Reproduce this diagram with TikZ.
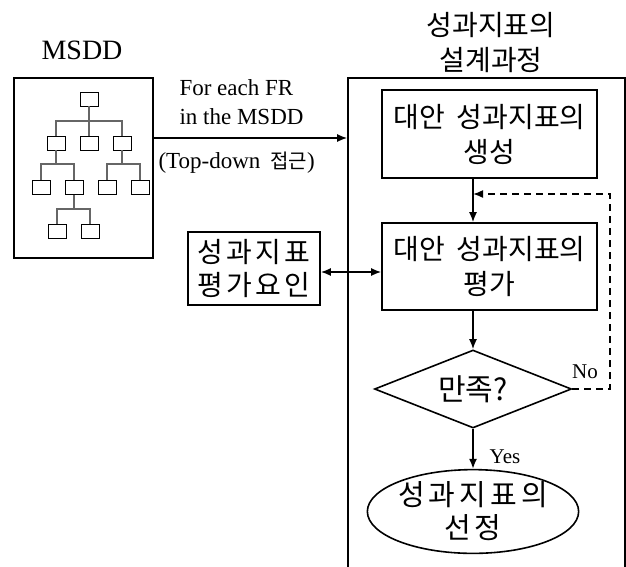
\documentclass[tikz,border=0pt]{standalone}
\usepackage{fontspec}
\setmainfont{Liberation Serif}
\newfontfamily\kr{Noto Sans CJK KR}
\usetikzlibrary{arrows.meta,shapes.geometric}
\newcommand{\ls}{\hspace{3pt}}
\newcommand{\lsw}{\hspace{4pt}}
\begin{document}
\begin{tikzpicture}[x=1pt,y=-1pt,
  box/.style={draw,line width=1.6pt,inner sep=0pt,align=center},
  tbox/.style={draw,line width=0.9pt,minimum width=18pt,minimum height=14pt,inner sep=0pt},
  tline/.style={draw=black!60,line width=1.1pt},
  arr/.style={line width=1.6pt,-{Latex[length=10pt,width=8pt]}},
  kor/.style={font=\kr\fontsize{28}{35}\selectfont},
  lat/.style={font=\fontsize{23}{29}\selectfont},
]
\useasboundingbox (0,0) rectangle (626,566);
% MSDD
\node[font=\fontsize{28}{30}\selectfont] (msddlbl) at (82,50) {MSDD};
\node[box,line width=2.2pt,minimum width=139pt,minimum height=180pt] (msdd) at (83.5,168) {};
% tree
\node[tbox] (r) at (89,99) {};
\node[tbox] (a) at (56,143) {};
\node[tbox] (b) at (89,143) {};
\node[tbox] (c) at (122,143) {};
\node[tbox] (a1) at (41,187.5) {};
\node[tbox] (a2) at (74,187.5) {};
\node[tbox] (c1) at (107,187.5) {};
\node[tbox] (c2) at (140,187.5) {};
\node[tbox] (d1) at (57,231) {};
\node[tbox] (d2) at (90,231) {};
\coordinate (b1) at (0,121);
\coordinate (b2) at (0,164);
\coordinate (b3) at (0,209);
\draw[tline] (r.south) -- (b.north);
\draw[tline] (a.north) |- (c.north |- b1) -- (c.north);
\draw[tline] (a.south) -- (a.south |- b2);
\draw[tline] (a1.north) |- (a2.north |- b2) -- (a2.north);
\draw[tline] (c.south) -- (c.south |- b2);
\draw[tline] (c1.north) |- (c2.north |- b2) -- (c2.north);
\draw[tline] (a2.south) -- (a2.south |- b3);
\draw[tline] (d1.north) |- (d2.north |- b3) -- (d2.north);
% big process box
\node[box,minimum width=277pt,minimum height=522pt] (big) at (486.5,339) {};
\node[kor,align=center] (title) at (491,42.5) {성과지표의\\설계과정};
\node[box,kor,minimum width=215pt,minimum height=88pt] (gen) at (489.5,134) {대안\hspace{12pt}성과지표의\\생성};
\node[box,kor,minimum width=215pt,minimum height=87pt] (eval) at (489.5,266.5) {대안\hspace{12pt}성과지표의\\평가};
\node[draw,diamond,line width=1.6pt,aspect=2.5,minimum width=197pt,minimum height=78pt,inner sep=0pt,font=\kr\fontsize{30}{30}\selectfont] (sat) at (473,389) {만족?};
\node[draw,ellipse,line width=1.6pt,minimum width=180pt,minimum height=83pt,inner sep=0pt,align=center,font=\kr\fontsize{29}{33}\selectfont] (sel) at (473,511.5) {성\lsw 과\lsw 지\lsw 표\lsw 의\\선\lsw 정};
\node[box,minimum width=132pt,minimum height=73pt,font=\kr\fontsize{28}{33}\selectfont] (factor) at (254,268.5) {성\ls 과\ls 지\ls 표\\평\ls 가\ls 요\ls 인};
% helper coordinates
\coordinate (ax) at (473,0);
\coordinate (my) at (0,138);
\coordinate (dy) at (0,272);
\coordinate (lx) at (610,0);
\coordinate (ly) at (0,194);
% connectors
\draw[arr] (msdd.east |- my) -- (big.west |- my);
\draw[arr] (gen.south -| ax) -- (eval.north -| ax);
\draw[arr] (eval.south -| ax) -- (sat.north);
\draw[arr] (sat.south) -- (sel.north);
\draw[arr,dash pattern=on 7pt off 5pt] (sat.east) -- (sat.east -| lx) -- (lx |- ly) -- (ax |- ly);
\draw[line width=1.6pt,{Latex[length=10pt,width=8pt]}-{Latex[length=10pt,width=8pt]}] (factor.east |- dy) -- (eval.west |- dy);
% labels
\node[lat,align=left,anchor=west] (fe) at (176,102.5) {For each FR\\in the MSDD};
\node[lat,anchor=west] (td) at (155,163) {(Top-down\hspace{10pt}{\kr\fontsize{20}{20}\selectfont 접근})};
\node[font=\fontsize{21}{21}\selectfont] (no) at (585,372) {No};
\node[font=\fontsize{21}{21}\selectfont] (yes) at (505,457) {Yes};
\end{tikzpicture}
\end{document}
